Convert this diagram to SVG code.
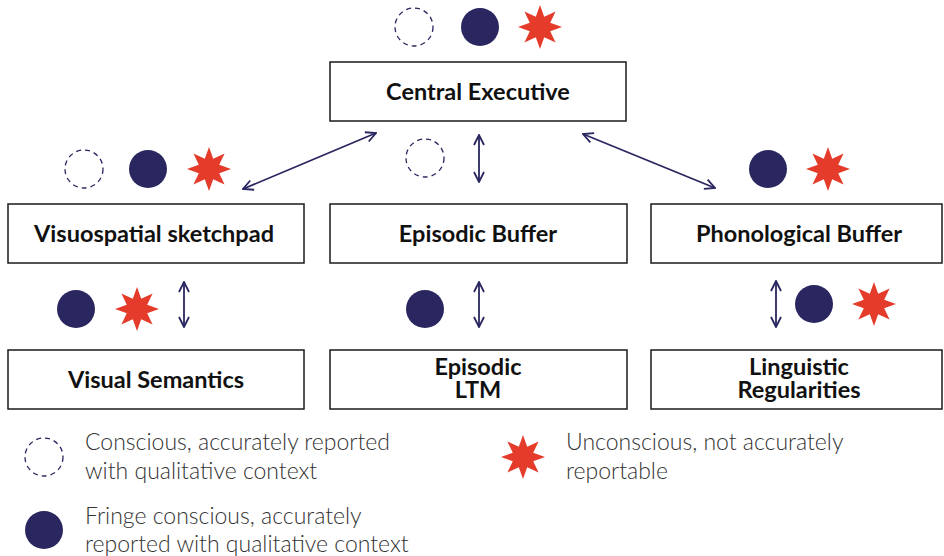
<svg xmlns="http://www.w3.org/2000/svg" width="944" height="556" viewBox="0 0 944 556">
<style>
.box{fill:#fff;stroke:#1a1a1a;stroke-width:1.5}
.lbl{font-family:Lato,"Liberation Sans",sans-serif;font-weight:700;font-size:23.5px;fill:#111;text-anchor:middle}
.leg{font-family:Lato,"Liberation Sans",sans-serif;font-weight:300;font-size:23px;fill:#333}
.dash{fill:none;stroke:#2a2660;stroke-width:1.3;stroke-dasharray:5 4}
.fill{fill:#2a2660}
.star{fill:#e53b2a}
.con{fill:none;stroke:#2a2660;stroke-width:1.8;marker-start:url(#ah);marker-end:url(#ah)}
</style>
<defs>
<marker id="ah" viewBox="0 0 12 12" refX="11" refY="6" markerWidth="12" markerHeight="12" markerUnits="userSpaceOnUse" orient="auto-start-reverse">
<path d="M1,1 L11,6 L1,11" fill="none" stroke="#2a2660" stroke-width="1.8"/>
</marker>
<polygon id="st" points="0,-22 4.2,-10.2 15.6,-15.6 10.2,-4.2 22,0 10.2,4.2 15.6,15.6 4.2,10.2 0,22 -4.2,10.2 -15.6,15.6 -10.2,4.2 -22,0 -10.2,-4.2 -15.6,-15.6 -4.2,-10.2"/>
</defs>
<g id="connectors">
<line class="con" x1="243" y1="189" x2="376" y2="133"/>
<line class="con" x1="479" y1="135" x2="479" y2="182"/>
<line class="con" x1="583" y1="134" x2="715" y2="188"/>
<line class="con" x1="184" y1="282" x2="184" y2="327"/>
<line class="con" x1="479" y1="282" x2="479" y2="327"/>
<line class="con" x1="776" y1="281" x2="776" y2="327"/>
</g>
<g id="central-executive"><rect class="box" x="330" y="62" width="296" height="59"/><text class="lbl" x="478" y="100">Central Executive</text></g>
<g id="visuospatial"><rect class="box" x="8" y="204" width="296" height="59"/><text class="lbl" x="154" y="242">Visuospatial sketchpad</text></g>
<g id="episodic-buffer"><rect class="box" x="330" y="204" width="297" height="59"/><text class="lbl" x="478" y="242">Episodic Buffer</text></g>
<g id="phonological-buffer"><rect class="box" x="651" y="204" width="291" height="59"/><text class="lbl" x="799" y="242">Phonological Buffer</text></g>
<g id="visual-semantics"><rect class="box" x="8" y="350" width="296" height="59"/><text class="lbl" x="156" y="388">Visual Semantics</text></g>
<g id="episodic-ltm"><rect class="box" x="330" y="350" width="297" height="59"/><text class="lbl" x="478" y="375">Episodic</text><text class="lbl" x="478" y="398">LTM</text></g>
<g id="linguistic-regularities"><rect class="box" x="651" y="350" width="291" height="59"/><text class="lbl" x="799" y="375">Linguistic</text><text class="lbl" x="799" y="398">Regularities</text></g>
<g id="symbols">
<circle class="dash" cx="414" cy="27" r="19"/><circle class="fill" cx="480" cy="27" r="19"/><use href="#st" class="star" x="540" y="27"/>
<circle class="dash" cx="84" cy="169" r="19"/><circle class="fill" cx="148" cy="169" r="19"/><use href="#st" class="star" x="209" y="169"/>
<circle class="dash" cx="425" cy="158" r="19"/>
<circle class="fill" cx="768" cy="169" r="19"/><use href="#st" class="star" x="828" y="169"/>
<circle class="fill" cx="76" cy="309" r="19"/><use href="#st" class="star" x="137" y="309"/>
<circle class="fill" cx="425" cy="309" r="19"/>
<circle class="fill" cx="814" cy="304" r="19"/><use href="#st" class="star" x="874" y="304"/>
</g>
<g id="legend">
<circle class="dash" cx="44" cy="457" r="19"/>
<text class="leg" x="85" y="450">Conscious, accurately reported</text>
<text class="leg" x="85" y="479">with qualitative context</text>
<circle class="fill" cx="44" cy="530" r="19"/>
<text class="leg" x="85" y="524">Fringe conscious, accurately</text>
<text class="leg" x="85" y="552">reported with qualitative context</text>
<use href="#st" class="star" x="523" y="457"/>
<text class="leg" x="566" y="450">Unconscious, not accurately</text>
<text class="leg" x="566" y="479">reportable</text>
</g>
</svg>
